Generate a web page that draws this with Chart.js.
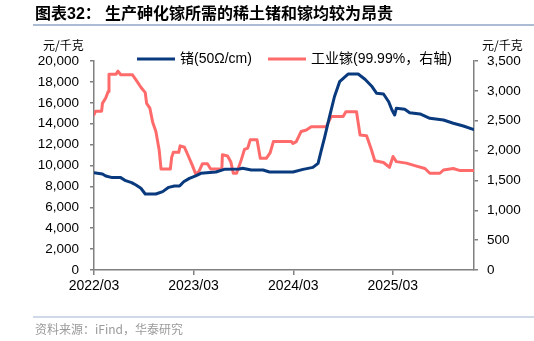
<!DOCTYPE html>
<html lang="zh">
<head>
<meta charset="UTF-8">
<title>稀土锗和镓价格</title>
<script src="https://cdn.jsdelivr.net/npm/chart.js"></script>
<style>
  html, body { margin: 0; padding: 0; background: #fff; }
  #wrap { position: relative; width: 534px; height: 341px; }
</style>
</head>
<body>
<div id="wrap">
  <canvas id="geGaChart" width="534" height="341"></canvas>
</div>
<script>
// 锗 (50Ω/cm), 元/千克, left axis
const geDates = ['2022-03-01','2022-04-01','2022-04-13','2022-05-07','2022-06-07','2022-06-25','2022-07-17','2022-08-02',
  '2022-08-20','2022-09-05','2022-10-14','2022-11-08','2022-11-30','2022-12-21','2023-01-09','2023-01-24','2023-02-14',
  '2023-03-09','2023-03-28','2023-05-22','2023-06-22','2023-08-16','2023-08-28','2023-09-29','2023-11-11','2023-12-05',
  '2024-02-29','2024-04-06','2024-05-12','2024-05-31','2024-06-12','2024-06-24','2024-07-12','2024-07-30','2024-08-18',
  '2024-09-18','2024-10-25','2024-11-19','2024-12-13','2025-01-01','2025-01-26','2025-02-14','2025-02-26','2025-03-08',
  '2025-03-14','2025-04-14','2025-05-02','2025-06-09','2025-07-15','2025-09-03','2025-10-09','2025-11-15','2025-12-21'];
const geValues = [9310, 9190, 9000, 8840, 8840, 8550, 8360, 8130,
  7820, 7270, 7270, 7500, 7910, 8040, 8040, 8450, 8770,
  9000, 9250, 9380, 9630, 9660, 9730, 9570, 9570, 9380,
  9380, 9630, 9820, 10210, 11480, 12700, 14670, 16580, 18020,
  18750, 18750, 18250, 17610, 16910, 16840, 16100, 15310, 14830,
  15470, 15380, 15050, 14930, 14520, 14350, 14040, 13780, 13460];

// 工业镓 (99.99%), 元/千克, right axis
const gaDates = ['2022-03-01','2022-03-07','2022-03-29','2022-04-01','2022-04-13','2022-04-22','2022-04-25','2022-05-21',
  '2022-05-28','2022-06-07','2022-07-20','2022-08-04','2022-08-20','2022-09-05','2022-09-10','2022-09-22','2022-10-02',
  '2022-10-14','2022-10-26','2022-11-02','2022-12-06','2022-12-11','2022-12-17','2023-01-06','2023-01-11','2023-01-27',
  '2023-02-08','2023-02-24','2023-03-09','2023-03-21','2023-04-03','2023-04-21','2023-05-03','2023-06-13','2023-06-15',
  '2023-07-04','2023-07-16','2023-07-25','2023-08-06','2023-08-23','2023-09-04','2023-09-16','2023-09-25','2023-10-20',
  '2023-11-01','2023-11-23','2023-12-07','2023-12-19','2024-02-23','2024-02-29','2024-03-12','2024-03-30','2024-04-18',
  '2024-05-06','2024-06-30','2024-07-18','2024-08-31','2024-09-10','2024-10-19','2024-11-01','2024-11-25','2024-12-13',
  '2024-12-25','2025-01-26','2025-02-17','2025-03-02','2025-03-14','2025-04-20','2025-05-27','2025-06-27','2025-07-15',
  '2025-08-21','2025-09-03','2025-10-09','2025-11-03','2025-12-21'];
const gaValues = [2600, 2660, 2660, 2790, 2880, 2990, 3280, 3280,
  3330, 3270, 3270, 3170, 3060, 2970, 2790, 2710, 2480,
  2320, 2010, 1690, 1690, 1890, 1970, 1970, 2080, 2055,
  1930, 1760, 1610, 1650, 1780, 1780, 1690, 1690, 1930,
  1910, 1810, 1620, 1620, 1840, 2020, 2040, 2180, 2180,
  1870, 1870, 1960, 2150, 2150, 2120, 2150, 2320, 2345,
  2400, 2400, 2570, 2570, 2650, 2650, 2260, 2250, 2010,
  1830, 1800, 1720, 1900, 1815, 1790, 1740, 1700, 1620,
  1620, 1675, 1700, 1665, 1665];

const tickDates = ['2022-03-01', '2023-03-01', '2024-03-01', '2025-03-01'];
const tickLabels = ['2022/03', '2023/03', '2024/03', '2025/03'];
const seriesNames = ['锗(50Ω/cm)', '工业镓(99.99%，右轴)'];

const FONT = "'Liberation Sans', Arial, 'Noto Sans CJK SC', sans-serif";
const AXIS = '#808080';

function toPoints(dates, values) {
  return dates.map((d, i) => ({ x: Date.parse(d), y: values[i] }));
}

// title, units, legend and source drawn around the chart
const decorations = {
  id: 'decorations',
  afterDraw(chart) {
    const c = chart.ctx;
    c.save();
    c.textBaseline = 'middle';

    c.fillStyle = '#000';
    c.font = "bold 16px 'Liberation Sans', 'Noto Sans CJK SC', sans-serif";
    c.fillText('图表32：', 35, 15);
    c.fillText('生产砷化镓所需的稀土锗和镓均较为昂贵', 105, 15);

    c.strokeStyle = '#8FA6C6';
    c.lineWidth = 1.5;
    c.beginPath(); c.moveTo(33, 25); c.lineTo(534, 25); c.stroke();
    c.strokeStyle = '#BFCDE0';
    c.beginPath(); c.moveTo(33, 317); c.lineTo(534, 317); c.stroke();

    c.fillStyle = '#000';
    c.font = "12px 'Noto Sans CJK SC', sans-serif";
    c.fillText('元/千克', 43, 45);
    c.fillText('元/千克', 482, 45);

    // legend
    const ds = chart.data.datasets;
    const legendX = [137, 268];
    c.font = '14px ' + FONT;
    ds.forEach((d, i) => {
      c.strokeStyle = d.borderColor;
      c.lineWidth = 3;
      c.beginPath(); c.moveTo(legendX[i], 59); c.lineTo(legendX[i] + 38, 59); c.stroke();
      c.fillStyle = '#000';
      c.fillText(d.label, legendX[i] + 43, 59);
    });

    c.fillStyle = '#9a9a9a';
    c.font = "12px 'Noto Sans CJK SC', sans-serif";
    c.fillText('资料来源：iFind，华泰研究', 35, 329);
    c.restore();
  }
};

const ctx = document.getElementById('geGaChart').getContext('2d');
new Chart(ctx, {
  type: 'line',
  data: {
    datasets: [{
      label: seriesNames[0],
      data: toPoints(geDates, geValues),
      borderColor: '#0A3A7E',
      borderWidth: 3,
      yAxisID: 'yLeft'
    }, {
      label: seriesNames[1],
      data: toPoints(gaDates, gaValues),
      borderColor: '#FF6B6B',
      borderWidth: 3,
      yAxisID: 'yRight'
    }]
  },
  options: {
    responsive: false,
    animation: false,
    maintainAspectRatio: false,
    layout: { padding: { top: 61, left: 0, right: 0, bottom: 0 } },
    elements: {
      point: { radius: 0 },
      line: { tension: 0, borderJoinStyle: 'round', borderCapStyle: 'round' }
    },
    plugins: { legend: { display: false }, title: { display: false }, tooltip: { enabled: false } },
    scales: {
      x: {
        type: 'linear',
        min: Date.parse('2022-03-01'),
        max: Date.parse('2025-12-24'),
        afterBuildTicks(axis) { axis.ticks = tickDates.map(d => ({ value: Date.parse(d) })); },
        afterFit(axis) { axis.height = 71; },
        grid: { drawOnChartArea: false, drawTicks: true, tickLength: 5, color: AXIS, lineWidth: 1.5 },
        border: { display: true, color: AXIS, width: 1.5 },
        ticks: {
          autoSkip: false, maxRotation: 0, padding: 3, color: '#000',
          font: { family: FONT, size: 14 },
          callback: (v, i) => tickLabels[i]
        }
      },
      yLeft: {
        position: 'left',
        min: 0, max: 20000,
        afterFit(axis) { axis.width = 94; },
        grid: { drawOnChartArea: false, drawTicks: true, tickLength: 4, color: AXIS, lineWidth: 1.5 },
        border: { display: true, color: AXIS, width: 1.5 },
        ticks: {
          stepSize: 2000, padding: 11, color: '#000',
          font: { family: FONT, size: 13.5 },
          callback: v => v.toLocaleString('en-US')
        }
      },
      yRight: {
        position: 'right',
        min: 0, max: 3500,
        afterFit(axis) { axis.width = 60; },
        grid: { drawOnChartArea: false, drawTicks: true, tickLength: 4, color: AXIS, lineWidth: 1.5 },
        border: { display: true, color: AXIS, width: 1.5 },
        ticks: {
          stepSize: 500, padding: 9, color: '#000',
          font: { family: FONT, size: 13.5 },
          callback: v => v.toLocaleString('en-US')
        }
      }
    }
  },
  plugins: [decorations]
});
</script>
</body>
</html>
